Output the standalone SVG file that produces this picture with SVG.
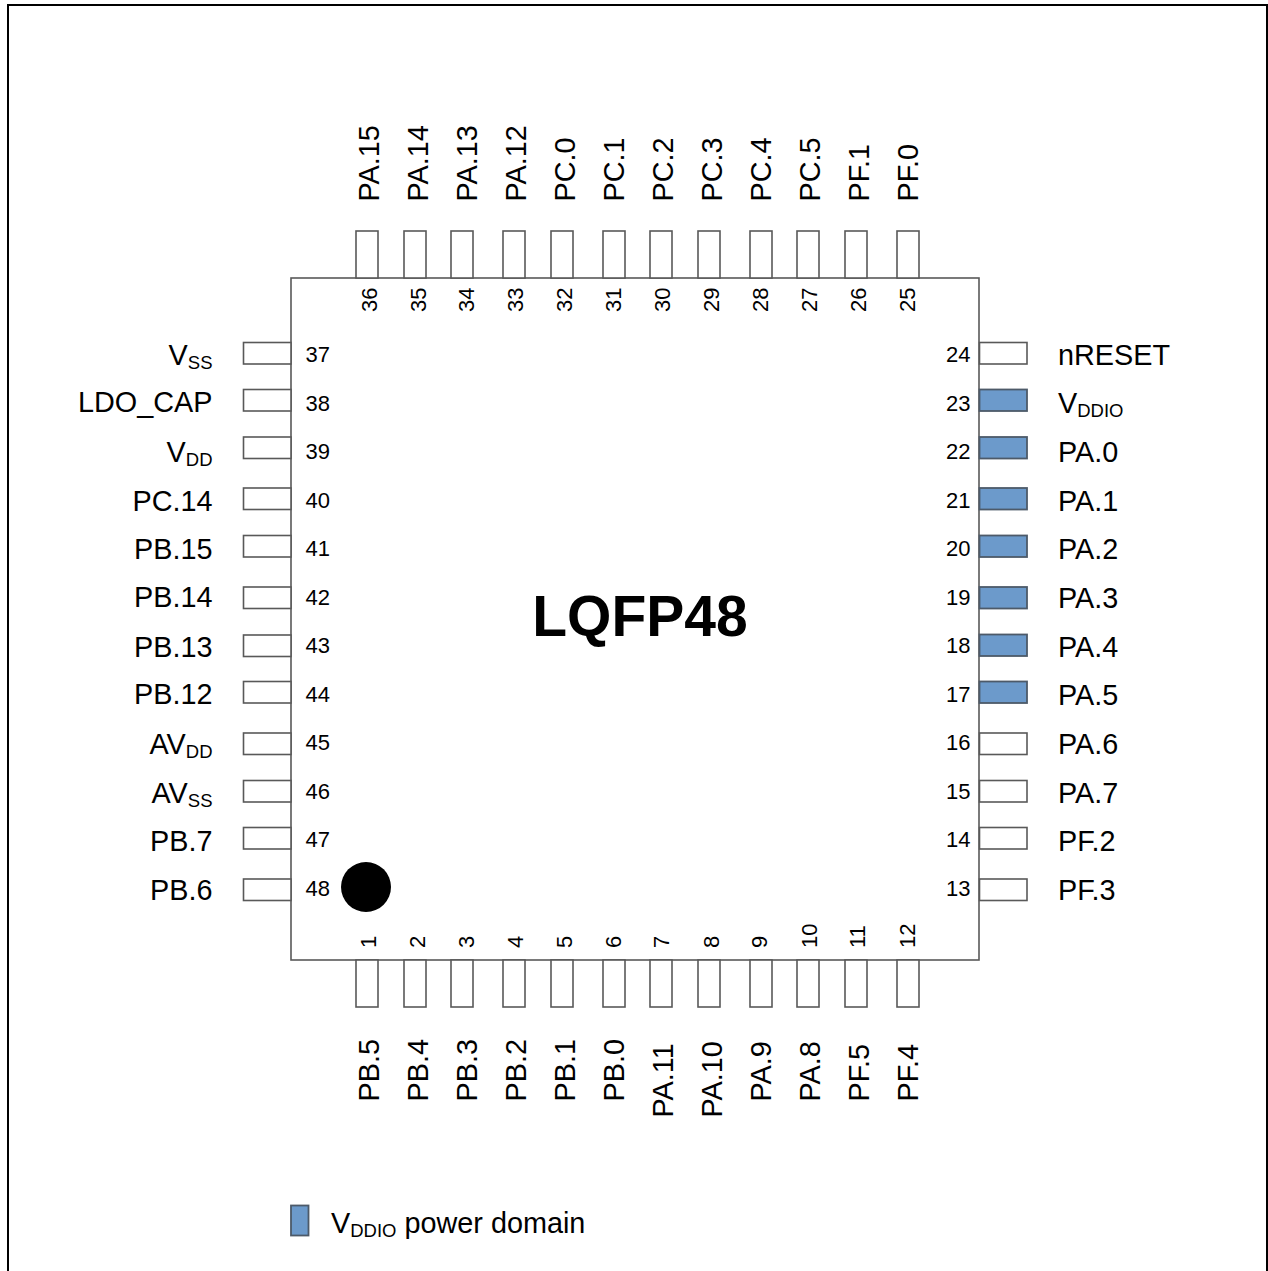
<svg xmlns="http://www.w3.org/2000/svg" width="1268" height="1271" viewBox="0 0 1268 1271">
<style>
text{font-family:"Liberation Sans",Arial,sans-serif;fill:#000}
.l{font-size:28.8px}.n{font-size:22px}.s{font-size:18.5px}
.e{text-anchor:end}
.p{fill:#fff;stroke:#595959;stroke-width:1.6}
.b{fill:#6c9acb;stroke:#4d5a69;stroke-width:1.8}
</style>
<rect id="frame" x="8" y="5" width="1259" height="1280" fill="#fff" stroke="#000" stroke-width="2"/>
<g id="connectors"/>
<g id="chip"><rect x="291" y="278" width="688" height="682" class="p"/>
<circle cx="366" cy="887" r="25" fill="#000"/>
<text x="640" y="636" font-size="57" font-weight="bold" text-anchor="middle">LQFP48</text></g>
<g id="top-pins">
<rect x="356" y="231" width="22" height="47" class="p"/><rect x="404" y="231" width="22" height="47" class="p"/><rect x="451" y="231" width="22" height="47" class="p"/><rect x="503" y="231" width="22" height="47" class="p"/><rect x="551" y="231" width="22" height="47" class="p"/><rect x="603" y="231" width="22" height="47" class="p"/><rect x="650" y="231" width="22" height="47" class="p"/><rect x="698" y="231" width="22" height="47" class="p"/><rect x="750" y="231" width="22" height="47" class="p"/><rect x="797" y="231" width="22" height="47" class="p"/><rect x="845" y="231" width="22" height="47" class="p"/><rect x="897" y="231" width="22" height="47" class="p"/>
<text class="l" transform="translate(378.5 201.5) rotate(-90)">PA.15</text><text class="l" transform="translate(427.5 201.5) rotate(-90)">PA.14</text><text class="l" transform="translate(476.5 201.5) rotate(-90)">PA.13</text><text class="l" transform="translate(525.5 201.5) rotate(-90)">PA.12</text><text class="l" transform="translate(574.5 201.5) rotate(-90)">PC.0</text><text class="l" transform="translate(623.5 201.5) rotate(-90)">PC.1</text><text class="l" transform="translate(672.5 201.5) rotate(-90)">PC.2</text><text class="l" transform="translate(721.5 201.5) rotate(-90)">PC.3</text><text class="l" transform="translate(770.5 201.5) rotate(-90)">PC.4</text><text class="l" transform="translate(819.5 201.5) rotate(-90)">PC.5</text><text class="l" transform="translate(868.5 201.5) rotate(-90)">PF.1</text><text class="l" transform="translate(917.5 201.5) rotate(-90)">PF.0</text>
<text class="n" transform="translate(376.5 312) rotate(-90)">36</text><text class="n" transform="translate(425.5 312) rotate(-90)">35</text><text class="n" transform="translate(473.5 312) rotate(-90)">34</text><text class="n" transform="translate(523 312) rotate(-90)">33</text><text class="n" transform="translate(572 312) rotate(-90)">32</text><text class="n" transform="translate(620.5 312) rotate(-90)">31</text><text class="n" transform="translate(670 312) rotate(-90)">30</text><text class="n" transform="translate(719 312) rotate(-90)">29</text><text class="n" transform="translate(767.5 312) rotate(-90)">28</text><text class="n" transform="translate(816.5 312) rotate(-90)">27</text><text class="n" transform="translate(865.5 312) rotate(-90)">26</text><text class="n" transform="translate(915 312) rotate(-90)">25</text>
</g>
<g id="bottom-pins">
<rect x="356" y="960" width="22" height="47" class="p"/><rect x="404" y="960" width="22" height="47" class="p"/><rect x="451" y="960" width="22" height="47" class="p"/><rect x="503" y="960" width="22" height="47" class="p"/><rect x="551" y="960" width="22" height="47" class="p"/><rect x="603" y="960" width="22" height="47" class="p"/><rect x="650" y="960" width="22" height="47" class="p"/><rect x="698" y="960" width="22" height="47" class="p"/><rect x="750" y="960" width="22" height="47" class="p"/><rect x="797" y="960" width="22" height="47" class="p"/><rect x="845" y="960" width="22" height="47" class="p"/><rect x="897" y="960" width="22" height="47" class="p"/>
<text class="l" transform="translate(379 1101.5) rotate(-90)">PB.5</text><text class="l" transform="translate(428 1101.5) rotate(-90)">PB.4</text><text class="l" transform="translate(477 1101.5) rotate(-90)">PB.3</text><text class="l" transform="translate(526 1101.5) rotate(-90)">PB.2</text><text class="l" transform="translate(575 1101.5) rotate(-90)">PB.1</text><text class="l" transform="translate(624 1101.5) rotate(-90)">PB.0</text><text class="l" transform="translate(673 1117.5) rotate(-90)">PA.11</text><text class="l" transform="translate(722 1117.5) rotate(-90)">PA.10</text><text class="l" transform="translate(771 1101.5) rotate(-90)">PA.9</text><text class="l" transform="translate(820 1101.5) rotate(-90)">PA.8</text><text class="l" transform="translate(869 1101.5) rotate(-90)">PF.5</text><text class="l" transform="translate(918 1101.5) rotate(-90)">PF.4</text>
<text class="n" transform="translate(376 948) rotate(-90)">1</text><text class="n" transform="translate(425 948) rotate(-90)">2</text><text class="n" transform="translate(474 948) rotate(-90)">3</text><text class="n" transform="translate(522.5 948) rotate(-90)">4</text><text class="n" transform="translate(572 948) rotate(-90)">5</text><text class="n" transform="translate(620.5 948) rotate(-90)">6</text><text class="n" transform="translate(669 948) rotate(-90)">7</text><text class="n" transform="translate(719 948) rotate(-90)">8</text><text class="n" transform="translate(767 948) rotate(-90)">9</text><text class="n" transform="translate(817 948) rotate(-90)">10</text><text class="n" transform="translate(865 948) rotate(-90)">11</text><text class="n" transform="translate(915 948) rotate(-90)">12</text>
</g>
<g id="left-pins">
<rect x="243.5" y="342.5" width="47.5" height="21.5" class="p"/><rect x="243.5" y="389.5" width="47.5" height="21.5" class="p"/><rect x="243.5" y="437" width="47.5" height="21.5" class="p"/><rect x="243.5" y="488" width="47.5" height="21.5" class="p"/><rect x="243.5" y="535.5" width="47.5" height="21.5" class="p"/><rect x="243.5" y="587" width="47.5" height="21.5" class="p"/><rect x="243.5" y="635" width="47.5" height="21.5" class="p"/><rect x="243.5" y="681.5" width="47.5" height="21.5" class="p"/><rect x="243.5" y="733" width="47.5" height="21.5" class="p"/><rect x="243.5" y="780.5" width="47.5" height="21.5" class="p"/><rect x="243.5" y="827.5" width="47.5" height="21.5" class="p"/><rect x="243.5" y="879" width="47.5" height="21.5" class="p"/>
<text class="l e" x="212.5" y="365">V<tspan class="s" dy="4">SS</tspan></text><text class="l e" x="212.5" y="412">LDO_CAP</text><text class="l e" x="212.5" y="462">V<tspan class="s" dy="4">DD</tspan></text><text class="l e" x="212.5" y="510.5">PC.14</text><text class="l e" x="212.5" y="558.5">PB.15</text><text class="l e" x="212.5" y="607">PB.14</text><text class="l e" x="212.5" y="656.5">PB.13</text><text class="l e" x="212.5" y="704">PB.12</text><text class="l e" x="212.5" y="754">AV<tspan class="s" dy="4">DD</tspan></text><text class="l e" x="212.5" y="802.5">AV<tspan class="s" dy="4">SS</tspan></text><text class="l e" x="212.5" y="851">PB.7</text><text class="l e" x="212.5" y="900">PB.6</text>
<text class="n" x="305.5" y="362">37</text><text class="n" x="305.5" y="411">38</text><text class="n" x="305.5" y="459">39</text><text class="n" x="305.5" y="508">40</text><text class="n" x="305.5" y="556">41</text><text class="n" x="305.5" y="605">42</text><text class="n" x="305.5" y="653">43</text><text class="n" x="305.5" y="702">44</text><text class="n" x="305.5" y="750">45</text><text class="n" x="305.5" y="799">46</text><text class="n" x="305.5" y="847">47</text><text class="n" x="305.5" y="896">48</text>
</g>
<g id="right-pins">
<rect x="979.5" y="342.5" width="47.5" height="21.5" class="p"/><rect x="979.5" y="389.5" width="47.5" height="21.5" class="b"/><rect x="979.5" y="437" width="47.5" height="21.5" class="b"/><rect x="979.5" y="488" width="47.5" height="21.5" class="b"/><rect x="979.5" y="535.5" width="47.5" height="21.5" class="b"/><rect x="979.5" y="587" width="47.5" height="21.5" class="b"/><rect x="979.5" y="634.5" width="47.5" height="21.5" class="b"/><rect x="979.5" y="681.5" width="47.5" height="21.5" class="b"/><rect x="979.5" y="733" width="47.5" height="21.5" class="p"/><rect x="979.5" y="780.5" width="47.5" height="21.5" class="p"/><rect x="979.5" y="827.5" width="47.5" height="21.5" class="p"/><rect x="979.5" y="879" width="47.5" height="21.5" class="p"/>
<text class="l" x="1058" y="364.5">nRESET</text><text class="l" x="1058" y="412.5">V<tspan class="s" dy="4">DDIO</tspan></text><text class="l" x="1058" y="461.5">PA.0</text><text class="l" x="1058" y="510.5">PA.1</text><text class="l" x="1058" y="558.5">PA.2</text><text class="l" x="1058" y="608">PA.3</text><text class="l" x="1058" y="657">PA.4</text><text class="l" x="1058" y="705">PA.5</text><text class="l" x="1058" y="754">PA.6</text><text class="l" x="1058" y="802.5">PA.7</text><text class="l" x="1058" y="851">PF.2</text><text class="l" x="1058" y="900">PF.3</text>
<text class="n" x="946" y="362">24</text><text class="n" x="946" y="411">23</text><text class="n" x="946" y="459">22</text><text class="n" x="946" y="508">21</text><text class="n" x="946" y="556">20</text><text class="n" x="946" y="605">19</text><text class="n" x="946" y="653">18</text><text class="n" x="946" y="702">17</text><text class="n" x="946" y="750">16</text><text class="n" x="946" y="799">15</text><text class="n" x="946" y="847">14</text><text class="n" x="946" y="895.5">13</text>
</g>
<g id="legend"><rect x="291" y="1205.5" width="17.5" height="30" class="b"/>
<text class="l" x="331" y="1233">V<tspan class="s" dy="4">DDIO</tspan><tspan dy="-4"> power domain</tspan></text></g>
</svg>
